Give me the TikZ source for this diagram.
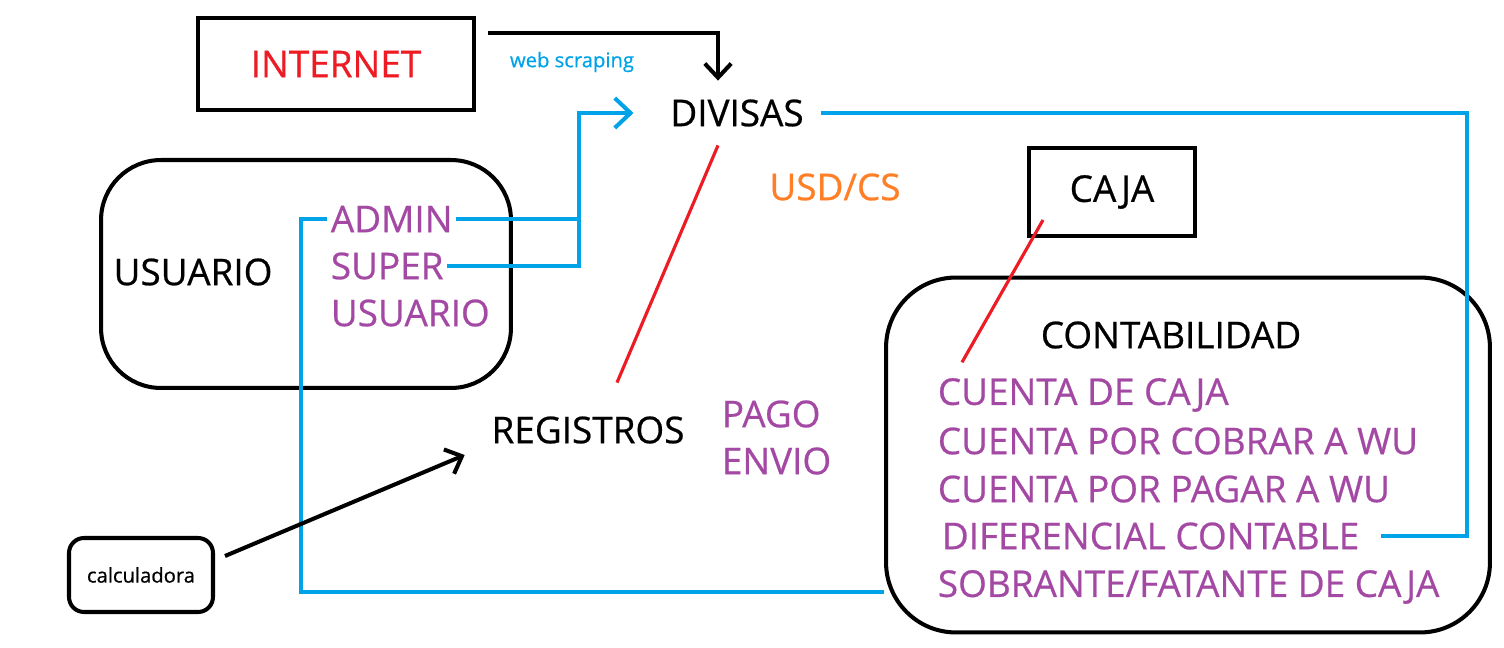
\documentclass[tikz,border=0pt]{standalone}
\usepackage{fontspec}
\setmainfont{Open Sans}[FakeBold=0.6]
\usetikzlibrary{arrows.meta}
\definecolor{rojo}{HTML}{ED1C24}
\definecolor{azul}{HTML}{00A2E8}
\definecolor{naranja}{HTML}{FF7F27}
\definecolor{morado}{HTML}{A349A4}

\begin{document}
\begin{tikzpicture}[x=0.02cm,y=-0.02cm,
    every node/.style={inner sep=2pt,font=\fontsize{21}{25}\selectfont},
    caja/.style={draw,line width=2.3pt},
    redonda/.style={draw,line width=2.3pt,rounded corners=#1},
    negra/.style={line width=2.3pt,-{Straight Barb[length=8pt,width=15pt]}},
    azul/.style={draw=azul,line width=2.3pt},
    rojo/.style={draw=rojo,line width=1.8pt},
    morado/.style={text=morado,anchor=west}]
    \useasboundingbox (0,0) rectangle (1504,648);
    % cajas
    \node[caja,minimum width=5.54cm,minimum height=1.84cm,text=rojo] (internet) at (336,64) {INTERNET};
    \node[caja,minimum width=3.32cm,minimum height=1.76cm] (caja) at (1112,192) {CAJA};
    \node[redonda=1.2cm,minimum width=8.2cm,minimum height=4.56cm] (usuario) at (306,274) {};
    \node[redonda=1.4cm,minimum width=12.08cm,minimum height=7.1cm] (contab) at (1188,455) {};
    \node[redonda=0.3cm,minimum width=2.88cm,minimum height=1.48cm,font=\fontsize{11.5}{14}\selectfont] (calc) at (141,575) {calculadora};
    % textos
    \node[text=azul,font=\fontsize{11.5}{14}\selectfont] (web) at (572,62) {web scraping};
    \node (divisas) at (737,113) {DIVISAS};
    \node[text=naranja] (usd) at (835,187) {USD/CS};
    \node (usu) at (193,272) {USUARIO};
    \node[morado] (admin) at (327,219) {ADMIN};
    \node[morado] (super) at (327,266) {SUPER};
    \node[morado] (usu2) at (327,313) {USUARIO};
    \node (registros) at (588,430) {REGISTROS};
    \node[morado] (pago) at (718,414) {PAGO};
    \node[morado] (envio) at (718,461) {ENVIO};
    \node (contabilidad) at (1171,335) {CONTABILIDAD};
    \foreach \t/\x/\y [count=\i] in {CUENTA DE CAJA/934/395, CUENTA POR COBRAR A WU/934/441,
        CUENTA POR PAGAR A WU/934/489, DIFERENCIAL CONTABLE/938/536, {SOBRANTE/FATANTE DE CAJA}/934/587}
        \node[morado] (c\i) at (\x,\y) {\t};
    % conectores
    \coordinate (web1) at (488,33);
    \coordinate (j1) at (579,213);
    \coordinate (k1) at (301,592);
    \coordinate (r1) at (1467,108);
    \draw[negra] (web1) -| ([yshift=0.3cm]divisas.north -| 718,0);
    \draw[azul] (admin.east) -- (admin.east -| j1);
    \draw[azul,-{Straight Barb[length=9pt,width=17pt]},shorten >=0.66cm] (super.east) -| (j1) |- (divisas.west);
    \draw[azul] (admin.west) -| (k1) -- (k1 -| contab.west);
    \draw[azul,shorten <=0.26cm,shorten >=0.36cm] (divisas.east) -- (divisas.east -| r1) |- (c4.east);
    \draw[rojo] ([shift={(-19,15)}]divisas.south) -- ([shift={(29,-30)}]registros.north);
    \draw[rojo] ([shift={(16,-18)}]caja.south west) -- ([shift={(28,-12)}]c1.north west);
    \draw[negra] ([shift={(10,-19)}]calc.east) -- ([shift={(-23,25)}]registros.west);
\end{tikzpicture}
\end{document}
